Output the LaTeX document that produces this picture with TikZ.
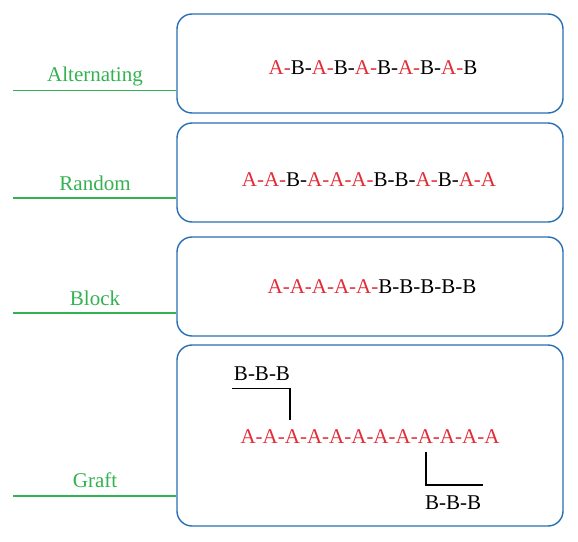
\documentclass[tikz,border=0pt]{standalone}
\usepackage{fontspec}
\setmainfont{Liberation Serif}
\usetikzlibrary{positioning}
\definecolor{boxblue}{RGB}{40,110,180}
\definecolor{kindgreen}{RGB}{50,178,80}
\definecolor{unitred}{RGB}{226,45,55}
\newcommand{\ua}{\textcolor{unitred}{A-}}
\newcommand{\ub}{B-}
\newcommand{\uA}{\textcolor{unitred}{A}}
\newcommand{\uB}{B}

\begin{document}
\begin{tikzpicture}[x=1pt,y=-1pt,
      chainbox/.style={draw=boxblue,line width=1.4pt,rounded corners=15pt,
        minimum width=386pt,inner sep=0pt},
      kind/.style={text=kindgreen,anchor=base,inner sep=0pt,font=\fontsize{21}{25}\selectfont},
      seq/.style={anchor=base,inner sep=0pt,font=\fontsize{21}{25}\selectfont},
      stem/.style={draw=kindgreen,line width=1.2pt},
      branch/.style={draw=black,line width=1.3pt}]

    \useasboundingbox (0,0) rectangle (578,541);

    % boxes
    \node[chainbox,minimum height=99pt] (alt) at (370,63.5) {};
    \node[chainbox,minimum height=99pt] (rnd) at (370,172.5) {};
    \node[chainbox,minimum height=99pt] (blk) at (370,286.5) {};
    \node[chainbox,minimum height=181pt] (grf) at (370,435.5) {};

    % sequences
    \node[seq] (altseq) at (373,74) {\ua\ub\ua\ub\ua\ub\ua\ub\ua\uB};
    \node[seq] (rndseq) at (369,186) {\ua\ua\ub\ua\ua\ua\ub\ub\ua\ub\ua\uA};
    \node[seq] (blkseq) at (372,293) {\ua\ua\ua\ua\ua\ub\ub\ub\ub\uB};
    \node[seq] (grfseq) at (370,443) {\ua\ua\ua\ua\ua\ua\ua\ua\ua\ua\ua\uA};

    % grafted branches
    \node[seq] (bup) at (262,380) {\ub\ub\uB};
    \node[seq] (blo) at (453,509) {\ub\ub\uB};
    \coordinate (up3) at (290,420);
    \coordinate (lo9) at (426,452);
    \draw[branch] ([yshift=-8pt,xshift=-2pt]bup.south west) -| (up3);
    \draw[branch] (lo9) |- ([yshift=10pt,xshift=2pt]blo.north east);

    % kinds
    \node[kind] (altname) at (95,81) {Alternating};
    \node[kind] (rndname) at (95,190) {Random};
    \node[kind] (blkname) at (95,305) {Block};
    \node[kind] (grfname) at (95,487) {Graft};

    \coordinate (altfoot) at (13,90.5);
    \coordinate (rndfoot) at (13,198);
    \coordinate (blkfoot) at (13,313);
    \coordinate (grffoot) at (13,496);
    \draw[stem] (altfoot) -- (altfoot -| alt.west);
    \draw[stem] (rndfoot) -- (rndfoot -| rnd.west);
    \draw[stem] (blkfoot) -- (blkfoot -| blk.west);
    \draw[stem] (grffoot) -- (grffoot -| grf.west);

\end{tikzpicture}
\end{document}
